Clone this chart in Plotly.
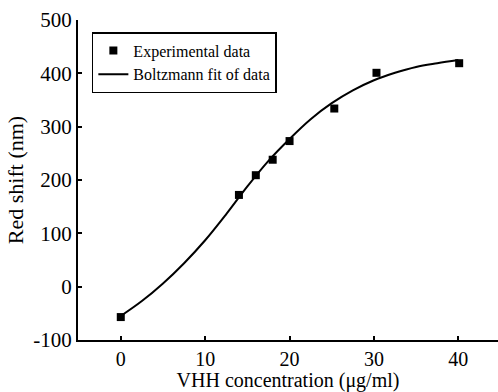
import plotly.graph_objects as go

# Experimental data
conc = [0, 14, 16, 18, 20, 25.3, 30.3, 40.1]
shift = [-57, 172, 209, 238, 273, 334, 401, 419]

# Boltzmann fit curve
fit_x = [0, 2.5, 5, 7.5, 10, 12.5, 15, 17.5, 20, 22.5, 25, 27.5, 30, 32.5, 35, 37.5, 40]
fit_y = [-55, -27, 6, 44, 87, 136, 188, 236, 277, 314, 344, 368, 387, 401, 412, 419, 425]

x_ticks = [0, 10, 20, 30, 40]
x_ticktext = ["0", "10", "20", "30", "40"]
y_ticks = [-100, 0, 100, 200, 300, 400, 500]
y_ticktext = ["-100", "0", "100", "200", "300", "400", "500"]

FONT = "Liberation Serif"

fig = go.Figure()
fig.add_trace(go.Scatter(
    x=conc, y=shift, mode="markers", name="Experimental data",
    marker=dict(symbol="square", size=8, color="black"),
))
fig.add_trace(go.Scatter(
    x=fit_x, y=fit_y, mode="lines", name="Boltzmann fit of data",
    line=dict(color="black", width=2, shape="spline", smoothing=1.0),
))

axis_common = dict(
    showgrid=False, zeroline=False, showline=True, linecolor="black", linewidth=2,
    ticks="inside", ticklen=4, tickwidth=1.5, tickcolor="black",
    mirror=False,
)

fig.update_layout(
    width=498, height=392,
    margin=dict(l=78, r=0, t=20, b=52),
    paper_bgcolor="white", plot_bgcolor="white",
    font=dict(family=FONT, color="black", size=20),
    xaxis=dict(
        range=[-5.07, 44.7], tickvals=x_ticks, ticktext=x_ticktext,
        tickfont=dict(family=FONT, size=20, color="black"),
        title=dict(text="VHH concentration (μg/ml)", font=dict(family=FONT, size=20, color="black"), standoff=0),
        **axis_common,
    ),
    yaxis=dict(
        range=[-100, 500], tickvals=y_ticks, ticktext=y_ticktext,
        tickfont=dict(family=FONT, size=21, color="black"),
        title=dict(text="Red shift (nm)", font=dict(family=FONT, size=22, color="black"), standoff=4),
        **axis_common,
    ),
    legend=dict(
        x=0.033, y=0.9625, xanchor="left", yanchor="top",
        bgcolor="white", bordercolor="black", borderwidth=1.5,
        font=dict(family=FONT, size=16, color="black"),
        tracegroupgap=0, itemwidth=30,
    ),
    showlegend=True,
)

fig.write_html("out.html")
